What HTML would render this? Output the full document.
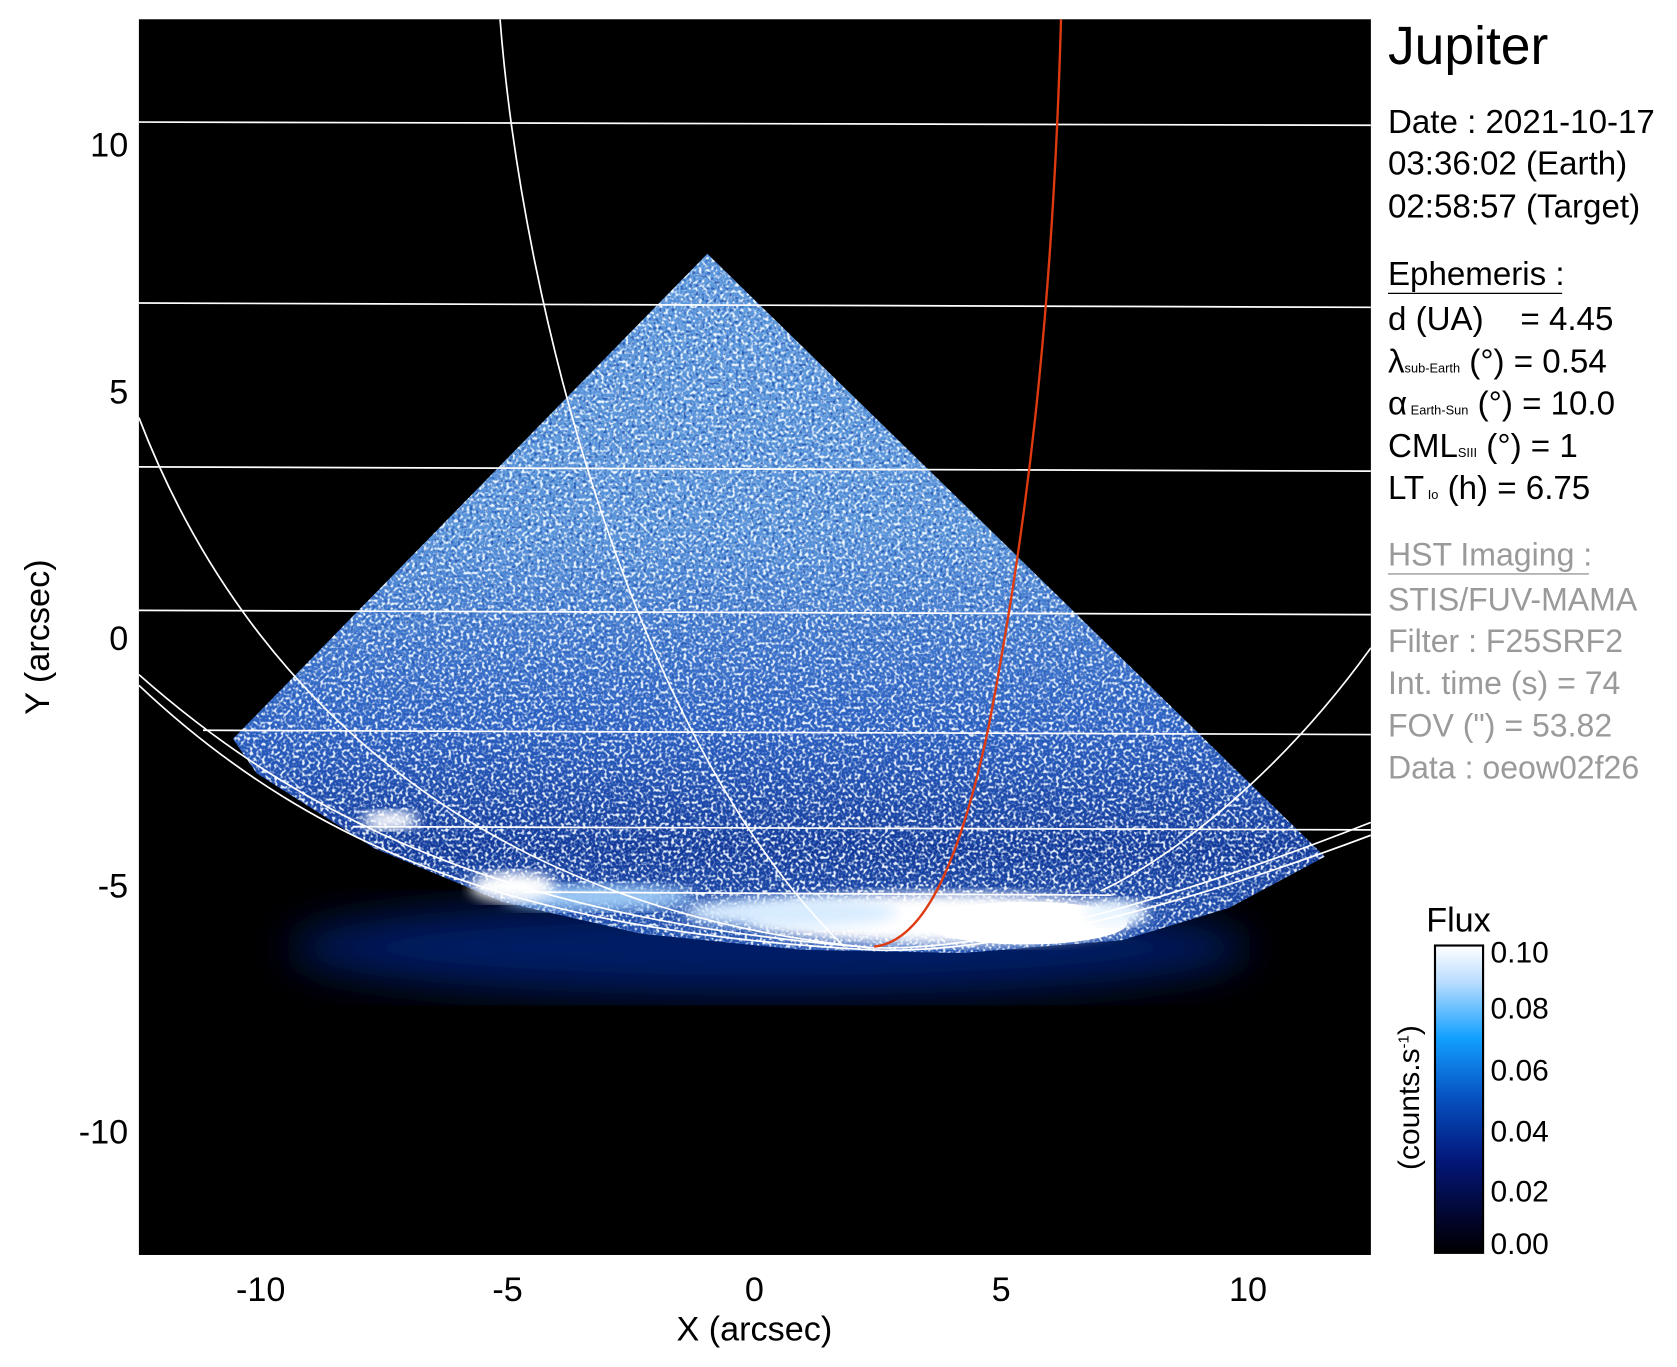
<!DOCTYPE html>
<html><head><meta charset="utf-8"><style>
html,body{margin:0;padding:0;background:#fff;}
svg{display:block;}
text{font-family:"Liberation Sans",sans-serif;}
</style></head><body>
<svg width="1677" height="1367" viewBox="0 0 1677 1367" xmlns="http://www.w3.org/2000/svg">
<defs>
<linearGradient id="tri" x1="0" y1="237" x2="0" y2="890" gradientUnits="userSpaceOnUse">
<stop offset="0" stop-color="#5e98dc"/>
<stop offset="0.4" stop-color="#5a94da"/>
<stop offset="0.68" stop-color="#2e62c4"/>
<stop offset="0.85" stop-color="#143a9a"/>
<stop offset="1" stop-color="#2a5ab8"/>
</linearGradient>
<linearGradient id="cb" x1="0" y1="0" x2="0" y2="1">
<stop offset="0" stop-color="#ffffff"/>
<stop offset="0.12" stop-color="#b8dcff"/>
<stop offset="0.3" stop-color="#12a0ff"/>
<stop offset="0.5" stop-color="#0650c0"/>
<stop offset="0.7" stop-color="#03177a"/>
<stop offset="0.88" stop-color="#020630"/>
<stop offset="1" stop-color="#000000"/>
</linearGradient>
<clipPath id="tclip"><polygon points="662,237 1240,800 1150,848 1050,878 900,890 750,887 600,872 470,842 350,792 240,722 218,690"/></clipPath>
<clipPath id="pclip"><rect x="130" y="18" width="1153" height="1154"/></clipPath>
<filter id="noiseW" x="0" y="0" width="100%" height="100%">
<feTurbulence type="fractalNoise" baseFrequency="0.35" numOctaves="1" seed="3"/>
<feColorMatrix type="matrix" values="0 0 0 0 0.9  0 0 0 0 0.96  0 0 0 0 1  0 0 0 5 -2.4"/>
</filter>
<filter id="noiseD" x="0" y="0" width="100%" height="100%">
<feTurbulence type="fractalNoise" baseFrequency="0.35" numOctaves="1" seed="11"/>
<feColorMatrix type="matrix" values="0 0 0 0 0.02  0 0 0 0 0.1  0 0 0 0 0.45  0 0 0 5 -2.7"/>
</filter>
<filter id="b6"><feGaussianBlur stdDeviation="6"/></filter>
<filter id="b20"><feGaussianBlur stdDeviation="20"/></filter>
</defs>
<g transform="scale(1.0685,1.0708)">
<rect x="130" y="18" width="1153" height="1154" fill="#000"/>
<g clip-path="url(#pclip)">
<ellipse cx="720" cy="885" rx="450" ry="45" fill="#051a66" filter="url(#b20)"/>
<g clip-path="url(#tclip)">
<rect x="130" y="200" width="1153" height="720" fill="url(#tri)"/>
<rect x="130" y="200" width="1153" height="720" filter="url(#noiseW)" opacity="0.95"/>
<rect x="130" y="200" width="1153" height="720" filter="url(#noiseD)" opacity="0.9"/>
</g>
<ellipse cx="880" cy="858" rx="180" ry="24" fill="#fff" filter="url(#b6)"/>
<ellipse cx="960" cy="862" rx="95" ry="20" fill="#fff"/>
<ellipse cx="740" cy="852" rx="100" ry="14" fill="#d8ecff" filter="url(#b6)"/>
<ellipse cx="560" cy="838" rx="90" ry="12" fill="#9cc8f4" filter="url(#b6)"/>
<ellipse cx="480" cy="828" rx="40" ry="14" fill="#fff" filter="url(#b6)"/>
<ellipse cx="365" cy="766" rx="26" ry="9" fill="#fff" filter="url(#b6)"/>
<ellipse cx="1045" cy="852" rx="30" ry="12" fill="#e8f4ff" filter="url(#b6)"/>
<g stroke="#fff" stroke-width="1.6" fill="none">
<line x1="130" y1="114" x2="1283" y2="117"/>
<line x1="130" y1="283" x2="1283" y2="287"/>
<line x1="130" y1="436" x2="1283" y2="440"/>
<line x1="130" y1="570" x2="1283" y2="574"/>
<line x1="190" y1="682" x2="1283" y2="686"/>
<line x1="330" y1="772" x2="1283" y2="775"/>
<line x1="490" y1="833" x2="1040" y2="836"/>
<path d="M468,18 C490,300 600,700 790,884"/>
<path d="M130,390 C230,650 450,850 815,885"/>
<path d="M130,630 C300,780 500,860 815,885 C950,890 1150,820 1283,768"/>
<path d="M130,640 C300,800 500,870 815,887 C950,893 1150,830 1283,780"/>
<path d="M1283,605 C1200,720 1100,800 1030,832"/>
</g>
<path d="M993,18 C985,300 960,500 925,680 C895,820 860,880 818,884" stroke="#e03a10" stroke-width="2.2" fill="none"/>
</g>
<g font-size="32" fill="#000">
<text x="120" y="146" text-anchor="end">10</text>
<text x="120" y="377" text-anchor="end">5</text>
<text x="120" y="607" text-anchor="end">0</text>
<text x="120" y="838" text-anchor="end">-5</text>
<text x="120" y="1068" text-anchor="end">-10</text>
<text x="244" y="1215" text-anchor="middle">-10</text>
<text x="475" y="1215" text-anchor="middle">-5</text>
<text x="706" y="1215" text-anchor="middle">0</text>
<text x="937" y="1215" text-anchor="middle">5</text>
<text x="1168" y="1215" text-anchor="middle">10</text>
<text x="706" y="1252" text-anchor="middle">X (arcsec)</text>
<text transform="translate(46,595) rotate(-90)" text-anchor="middle">Y (arcsec)</text>
</g>
<text x="1299" y="60" font-size="50">Jupiter</text>
<g font-size="31" fill="#000">
<text x="1299" y="124">Date : 2021-10-17</text>
<text x="1299" y="163">03:36:02 (Earth)</text>
<text x="1299" y="203">02:58:57 (Target)</text>
<text x="1299" y="266">Ephemeris :</text>
<text x="1299" y="308" xml:space="preserve">d (UA)    = 4.45</text>
<text x="1299" y="348">λ<tspan font-size="12">sub-Earth</tspan> (°) = 0.54</text>
<text x="1299" y="387">α<tspan font-size="12"> Earth-Sun</tspan> (°) = 10.0</text>
<text x="1299" y="427">CML<tspan font-size="12">SIII</tspan> (°) = 1</text>
<text x="1299" y="466">LT<tspan font-size="12"> Io</tspan> (h) = 6.75</text>
</g>
<line x1="1299" y1="274" x2="1462" y2="274" stroke="#000" stroke-width="1.2"/>
<g font-size="30" fill="#9a9a9a">
<text x="1299" y="528">HST Imaging :</text>
<text x="1299" y="570">STIS/FUV-MAMA</text>
<text x="1299" y="609">Filter : F25SRF2</text>
<text x="1299" y="648">Int. time (s) = 74</text>
<text x="1299" y="688">FOV (") = 53.82</text>
<text x="1299" y="727">Data : oeow02f26</text>
</g>
<line x1="1299" y1="536" x2="1487" y2="536" stroke="#9a9a9a" stroke-width="1.2"/>
<text x="1365" y="870" font-size="32" text-anchor="middle">Flux</text>
<rect x="1343" y="883" width="45" height="287" fill="url(#cb)" stroke="#000" stroke-width="2"/>
<g font-size="28" fill="#000">
<text x="1395" y="899">0.10</text>
<text x="1395" y="951">0.08</text>
<text x="1395" y="1009">0.06</text>
<text x="1395" y="1066">0.04</text>
<text x="1395" y="1122">0.02</text>
<text x="1395" y="1171">0.00</text>
<text transform="translate(1328,1025) rotate(-90)" text-anchor="middle">(counts.s<tspan font-size="14" dy="-10">-1</tspan><tspan dy="10">)</tspan></text>
</g>
</g>
</svg>
</body></html>
